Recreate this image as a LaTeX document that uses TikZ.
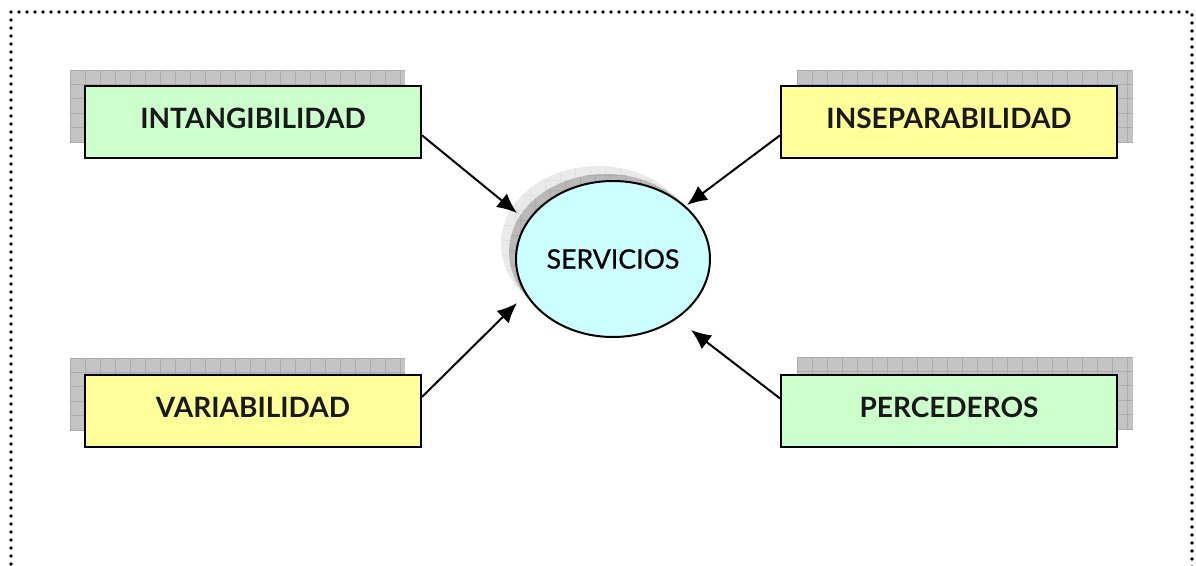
\documentclass[tikz,border=0pt]{standalone}
\usepackage{fontspec}
\newfontfamily\lato{Lato}
\newfontfamily\latomed[FakeBold=0.8]{Lato}
\usetikzlibrary{arrows.meta,calc,shapes.geometric}
\definecolor{boxgreen}{HTML}{CCFFCC}
\definecolor{boxyellow}{HTML}{FFFF99}
\definecolor{ovalcyan}{HTML}{CCFFFF}
\definecolor{shadefill}{HTML}{C4C4C4}
\definecolor{shadeline}{HTML}{ACACAC}
\definecolor{halofill}{HTML}{EAEAEA}
\definecolor{halo2fill}{HTML}{B9B9B9}
\tikzset{
  x=0.75pt, y=-0.75pt,
  featbox/.style={draw=black, line width=1.5pt, minimum width=252pt, minimum height=54pt,
    inner sep=0pt, font=\lato\bfseries\fontsize{21}{23}\selectfont, text=black!90},
  oval/.style={draw=black, line width=1.5pt, ellipse, fill=ovalcyan, minimum width=145.5pt,
    minimum height=117pt, inner sep=0pt, font=\latomed\fontsize{20}{22}\selectfont},
  feed/.style={line width=1.5pt, -{Latex[length=15pt,width=13pt]}},
  frame/.style={line width=2.8pt, dash pattern=on 0pt off 6pt, line cap=round}
}
% gridded drop shadow behind a box: corners (x1,y1) and (x2,y2) in px
\newcommand{\gridshade}[4]{%
  \begin{scope}
    \clip (#1,#2) rectangle (#3,#4);
    \fill[shadefill] (#1,#2) rectangle (#3,#4);
    \foreach \gx in {0,15,...,345} \draw[shadeline, line width=0.6pt] (#1+\gx,#2) -- (#1+\gx,#4);
    \foreach \gy in {0,14.4,...,72} \draw[shadeline, line width=0.6pt] (#1,#2+\gy) -- (#3,#2+\gy);
  \end{scope}}
\newcommand{\up}[1]{\raisebox{5pt}{#1}}
\begin{document}
\begin{tikzpicture}
\clip (0,0) rectangle (1196,565);
\fill[white] (0,0) rectangle (1196,565);

% dotted frame, open at the bottom
\draw[frame] (11,572) -- (11,12) -- (1192,12) -- (1192,572);

% shadows of the four boxes
\gridshade{70}{70}{405}{142}
\gridshade{797}{70}{1133}{142}
\gridshade{70}{358}{405}{431}
\gridshade{797}{357}{1133}{430}

% shadow of the central oval
\fill[halofill] (598,244) ellipse [x radius=97, y radius=78];
\begin{scope}
  \clip (598,244) ellipse [x radius=97, y radius=78];
  \foreach \gx in {500,515,...,700} \draw[white!88!black, line width=0.5pt] (\gx,160) -- (\gx,340);
  \foreach \gy in {165,180,...,330} \draw[white!88!black, line width=0.5pt] (495,\gy) -- (700,\gy);
\end{scope}
\fill[halo2fill] (606,252) ellipse [x radius=97, y radius=78];
\begin{scope}
  \clip (606,252) ellipse [x radius=97, y radius=78];
  \foreach \gx in {505,520,...,710} \draw[shadeline, line width=0.5pt] (\gx,170) -- (\gx,340);
  \foreach \gy in {175,190,...,340} \draw[shadeline, line width=0.5pt] (505,\gy) -- (710,\gy);
\end{scope}

% boxes
\node[featbox, fill=boxgreen]  (intang) at (253,122) {\up{INTANGIBILIDAD}};
\node[featbox, fill=boxyellow] (insep)  at (949,122) {\up{INSEPARABILIDAD}};
\node[featbox, fill=boxyellow] (variab) at (253,411) {\up{VARIABILIDAD}};
\node[featbox, fill=boxgreen]  (perec)  at (949,411) {\up{PERCEDEROS}};

% central oval
\node[oval] (serv) at (613,259) {SERVICIOS};

% arrow end points on the oval
\coordinate (tA) at (517,213);
\coordinate (tB) at (687,205);
\coordinate (tC) at (517,303);
\coordinate (tD) at (691,330);

\draw[feed] ($(intang.north east)!0.68!(intang.south east)$) -- (tA);
\draw[feed] ($(insep.north west)!0.68!(insep.south west)$) -- (tB);
\draw[feed] ($(variab.north east)!0.31!(variab.south east)$) -- (tC);
\draw[feed] ($(perec.north west)!0.33!(perec.south west)$) -- (tD);
\end{tikzpicture}
\end{document}
